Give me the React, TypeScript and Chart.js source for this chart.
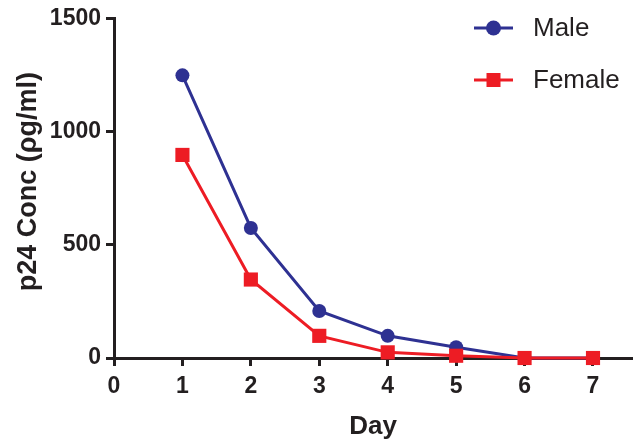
import React, { useEffect, useRef } from "react";
import { Chart, registerables } from "chart.js";

Chart.register(...registerables);

const days = [1, 2, 3, 4, 5, 6, 7];
const maleValues = [1250, 575, 208, 98, 48, 0, 0];
const femaleValues = [898, 347, 98, 25, 10, 0, 0];
const xTicks = [0, 1, 2, 3, 4, 5, 6, 7];
const yTicks = [0, 500, 1000, 1500];

const MALE_COLOR = "#2E3192";
const FEMALE_COLOR = "#ED1C24";
const INK = "#231F20";
const FONT = "'Liberation Sans', Arial, Helvetica, sans-serif";

const legendPlugin = {
  id: "customLegend",
  afterDraw(chart: any) {
    const ctx = chart.ctx;
    const items = [
      { label: "Male", color: MALE_COLOR, style: "circle", y: 28 },
      { label: "Female", color: FEMALE_COLOR, style: "rect", y: 80 },
    ];
    ctx.save();
    for (const it of items) {
      ctx.strokeStyle = it.color;
      ctx.lineWidth = 3;
      ctx.beginPath();
      ctx.moveTo(474, it.y);
      ctx.lineTo(513, it.y);
      ctx.stroke();
      ctx.fillStyle = it.color;
      if (it.style === "circle") {
        ctx.beginPath();
        ctx.arc(493.5, it.y, 7.5, 0, Math.PI * 2);
        ctx.fill();
      } else {
        ctx.fillRect(486.5, it.y - 7, 14, 14);
      }
      ctx.fillStyle = INK;
      ctx.font = `26px ${FONT}`;
      ctx.textBaseline = "middle";
      ctx.textAlign = "left";
      ctx.fillText(it.label, 533, it.y + 1);
    }
    ctx.restore();
  },
};

export default function App() {
  const ref = useRef<HTMLCanvasElement | null>(null);
  useEffect(() => {
    if (!ref.current) return;
    const chart = new Chart(ref.current, {
      type: "line",
      data: {
        datasets: [
          {
            label: "Male",
            data: days.map((d, i) => ({ x: d, y: maleValues[i] })),
            borderColor: MALE_COLOR,
            backgroundColor: MALE_COLOR,
            borderWidth: 3,
            pointStyle: "circle",
            pointRadius: 7,
            pointBorderWidth: 0,
            order: 1,
            clip: false as any,
          },
          {
            label: "Female",
            data: days.map((d, i) => ({ x: d, y: femaleValues[i] })),
            borderColor: FEMALE_COLOR,
            backgroundColor: FEMALE_COLOR,
            borderWidth: 3,
            pointStyle: "rect",
            pointRadius: 10,
            pointBorderWidth: 0,
            order: 0,
            clip: false as any,
          },
        ],
      },
      options: {
        animation: false,
        responsive: false,
        maintainAspectRatio: false,
        layout: { autoPadding: false, padding: { top: 13, right: 3, left: 0, bottom: 0 } } as any,
        plugins: {
          legend: { display: false },
          tooltip: { enabled: false },
        },
        scales: {
          x: {
            type: "linear",
            min: 0,
            max: 7.57,
            afterBuildTicks: (scale: any) => {
              scale.ticks = xTicks.map((v) => ({ value: v }));
            },
            afterFit: (scale: any) => {
              scale.height = 88;
            },
            grid: {
              drawOnChartArea: false,
              drawTicks: true,
              tickLength: 8,
              tickWidth: 3,
              tickColor: INK,
            },
            border: { display: true, width: 3, color: INK },
            ticks: {
              color: INK,
              padding: 7,
              font: { family: FONT, size: 23, weight: "bold" },
              callback: (v: any) => String(v),
            },
            title: {
              display: true,
              text: "Day",
              color: INK,
              font: { family: FONT, size: 26, weight: "bold" },
              padding: { top: 0, bottom: 4 },
            },
          },
          y: {
            type: "linear",
            min: 0,
            max: 1500,
            afterBuildTicks: (scale: any) => {
              scale.ticks = yTicks.map((v) => ({ value: v }));
            },
            afterFit: (scale: any) => {
              scale.width = 114;
            },
            grid: {
              drawOnChartArea: false,
              drawTicks: true,
              tickLength: 8,
              tickWidth: 3,
              tickColor: INK,
            },
            border: { display: true, width: 3, color: INK },
            ticks: {
              color: INK,
              padding: 5,
              font: { family: FONT, size: 23, weight: "bold" },
              callback: (v: any) => String(v),
            },
            title: {
              display: true,
              text: "\u2002p24 Conc (ρg/ml)",
              color: INK,
              font: { family: FONT, size: 27, weight: "bold" },
              padding: { top: 12, bottom: 0 },
            },
          },
        },
      },
      plugins: [legendPlugin],
    });
    return () => chart.destroy();
  }, []);
  return (
    <div style={{ position: "fixed", left: 0, top: 0, width: 635, height: 446, background: "#fff" }}>
      <canvas ref={ref} width={635} height={446} style={{ width: 635, height: 446 }} />
    </div>
  );
}
